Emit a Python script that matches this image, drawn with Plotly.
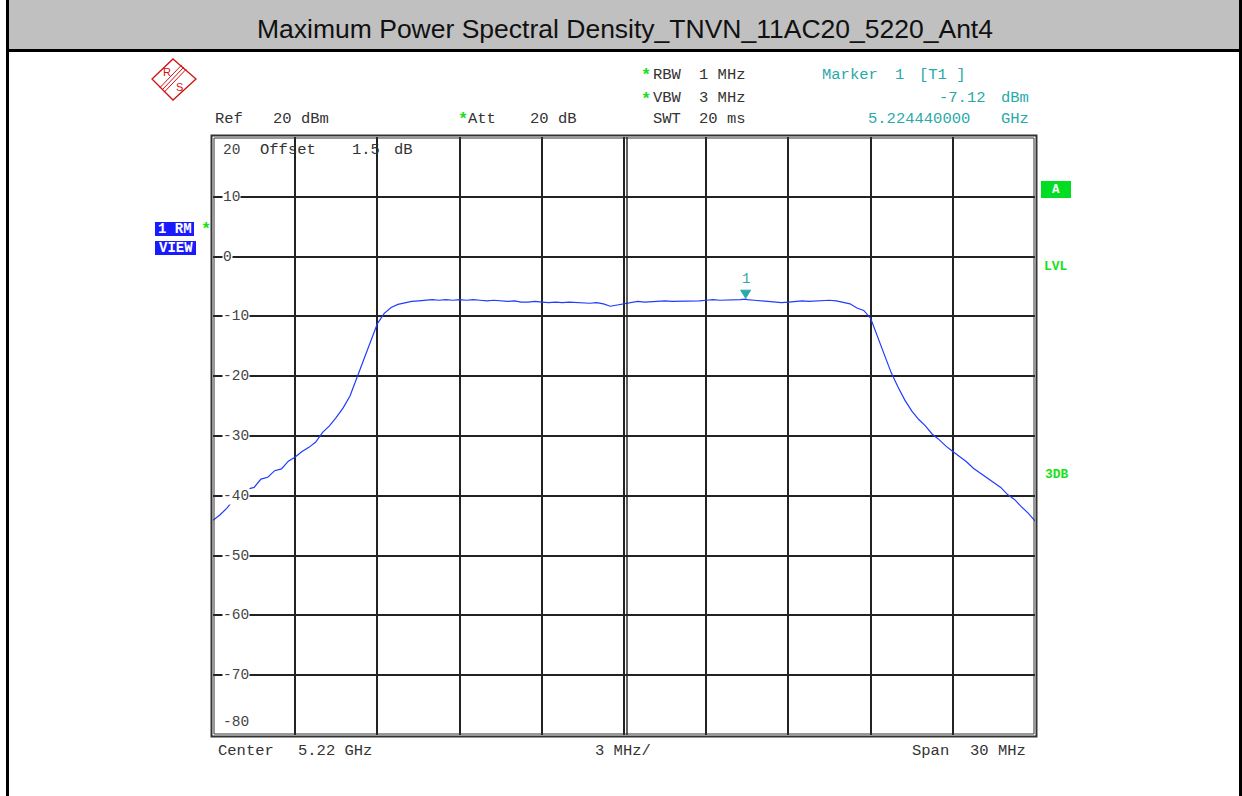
import plotly.graph_objects as go

# ---------------- data ----------------
center_mhz = 5220.0
span_mhz = 30.0
offset_mhz = [
    -15.00, -14.75, -14.50, -14.25, -14.00, -13.75, -13.50, -13.25, -13.00, -12.75,
    -12.50, -12.25, -12.00, -11.75, -11.50, -11.25, -11.00, -10.75, -10.50, -10.25,
    -10.00, -9.75, -9.50, -9.25, -9.00, -8.75, -8.50, -8.25, -8.00, -7.75,
    -7.50, -7.25, -7.00, -6.75, -6.50, -6.25, -6.00, -5.75, -5.50, -5.25,
    -5.00, -4.75, -4.50, -4.25, -4.00, -3.75, -3.50, -3.25, -3.00, -2.75,
    -2.50, -2.25, -2.00, -1.75, -1.50, -1.25, -1.00, -0.75, -0.50, -0.25,
    0.00, 0.25, 0.50, 0.75, 1.00, 1.25, 1.50, 1.75, 2.00, 2.25,
    2.50, 2.75, 3.00, 3.25, 3.50, 3.75, 4.00, 4.25, 4.44, 4.50,
    4.75, 5.00, 5.25, 5.50, 5.75, 6.00, 6.25, 6.50, 6.75, 7.00,
    7.25, 7.50, 7.75, 8.00, 8.25, 8.50, 8.75, 9.00, 9.25, 9.50,
    9.75, 10.00, 10.25, 10.50, 10.75, 11.00, 11.25, 11.50, 11.75, 12.00,
    12.25, 12.50, 12.75, 13.00, 13.25, 13.50, 13.75, 14.00, 14.25, 14.50,
    14.75, 15.00,
]
level_dbm = [
    -44.1, -43.2, -42.1, -40.7, -40.3, -38.9, -38.6, -37.2, -36.9, -35.8,
    -35.5, -34.2, -33.5, -32.6, -31.9, -31.0, -29.4, -28.3, -26.9, -25.3,
    -23.3, -20.3, -17.3, -14.3, -11.2, -9.5, -8.5, -8.0, -7.7, -7.5,
    -7.4, -7.3, -7.2, -7.3, -7.2, -7.3, -7.2, -7.3, -7.2, -7.3,
    -7.4, -7.3, -7.4, -7.5, -7.4, -7.6, -7.6, -7.5, -7.6, -7.7,
    -7.6, -7.7, -7.6, -7.7, -7.7, -7.8, -7.7, -7.9, -8.3, -8.1,
    -7.8, -7.6, -7.5, -7.6, -7.5, -7.5, -7.4, -7.5, -7.5, -7.4,
    -7.5, -7.4, -7.3, -7.2, -7.3, -7.3, -7.3, -7.2, -7.12, -7.2,
    -7.3, -7.4, -7.6, -7.6, -7.7, -7.6, -7.5, -7.4, -7.5, -7.4,
    -7.4, -7.3, -7.4, -7.6, -7.9, -8.6, -9.0, -10.3, -13.3, -16.3,
    -19.4, -21.8, -24.0, -25.8, -27.2, -28.3, -29.7, -30.6, -31.7, -32.6,
    -33.5, -34.3, -35.4, -36.2, -37.0, -37.9, -38.6, -39.8, -40.6, -41.8,
    -42.9, -44.2,
]
marker_freq_mhz = 5224.44
marker_level_dbm = -7.12
y_tick_vals = [20, 10, 0, -10, -20, -30, -40, -50, -60, -70, -80]
y_tick_text = ["20", "10", "0", "-10", "-20", "-30", "-40", "-50", "-60", "-70", "-80"]
title_text = "Maximum Power Spectral Density_TNVN_11AC20_5220_Ant4"

# ---------------- geometry helpers (pixel -> paper) ----------------
W, H = 1242, 796
L, R, T, B = 213, 1035, 137, 735


def px(x):
    return (x - L) / (R - L)


def py(y):
    return (B - y) / (B - T)


MONO = "Liberation Mono, Courier New, monospace"
TXT = "#333333"
TEAL = "#2aa9a9"
GREEN = "#19e019"
BLUE_TRACE = "#1f3cff"

freqs = [center_mhz + o for o in offset_mhz]

fig = go.Figure()
fig.add_trace(go.Scatter(
    x=freqs, y=level_dbm, mode="lines",
    line=dict(color=BLUE_TRACE, width=1.2),
    hoverinfo="skip", showlegend=False,
))

shapes = []
annotations = []


def text(x, y, s, color=TXT, size=15.5, anchor="left", bold=False, bg=None, fam=MONO):
    d = dict(x=px(x), y=py(y), xref="paper", yref="paper", text=("<b>%s</b>" % s) if bold else s,
             showarrow=False, xanchor=anchor, yanchor="middle",
             font=dict(family=fam, size=size, color=color))
    if bg:
        d["bgcolor"] = bg
        d["borderpad"] = 0
    annotations.append(d)


# page frame and title bar
shapes.append(dict(type="rect", xref="paper", yref="paper", x0=px(7.5), x1=px(1240.5), y0=py(0), y1=py(50.5),
                   fillcolor="#c0c0c0", line=dict(width=0), layer="below"))
shapes.append(dict(type="line", xref="paper", yref="paper", x0=px(7.5), x1=px(1242), y0=py(50.5), y1=py(50.5),
                   line=dict(color="black", width=3)))
shapes.append(dict(type="line", xref="paper", yref="paper", x0=px(7.5), x1=px(7.5), y0=py(0), y1=py(796),
                   line=dict(color="black", width=3)))
shapes.append(dict(type="line", xref="paper", yref="paper", x0=px(1240.5), x1=px(1240.5), y0=py(0), y1=py(796),
                   line=dict(color="black", width=3)))
annotations.append(dict(x=px(624.5), y=py(29), xref="paper", yref="paper", text=title_text, showarrow=False,
                        xanchor="center", yanchor="middle",
                        font=dict(family="Liberation Sans, Arial, sans-serif", size=26.5, color="#111111")))

# plot frame (double line)
shapes.append(dict(type="rect", xref="paper", yref="paper", x0=px(211.5), x1=px(1036.5), y0=py(736.5), y1=py(135.5),
                   line=dict(color="#333333", width=2)))
shapes.append(dict(type="rect", xref="paper", yref="paper", x0=px(214), x1=px(1034), y0=py(734), y1=py(138),
                   line=dict(color="#333333", width=1)))
# double centre line
shapes.append(dict(type="line", xref="x", yref="paper", xsizemode="pixel", xanchor=center_mhz,
                   x0=3, x1=3, y0=0, y1=1, line=dict(color="#222222", width=1.4)))

# R&S logo
RED = "#d01010"
shapes.append(dict(type="path", xref="paper", yref="paper",
                   path="M %f,%f L %f,%f L %f,%f L %f,%f Z" % (px(173), py(59), px(196), py(79), px(173), py(100), px(152), py(79)),
                   line=dict(color=RED, width=1.3)))
for d in (-2.2, 0, 2.2):
    shapes.append(dict(type="line", xref="paper", yref="paper",
                       x0=px(184 + d), y0=py(67 + d), x1=px(162 + d), y1=py(90 + d),
                       line=dict(color=RED, width=1)))
text(167, 72, "R", color=RED, size=11, anchor="center", fam="Liberation Sans, Arial")
text(179, 87, "S", color=RED, size=11, anchor="center", fam="Liberation Sans, Arial")

# instrument header texts
STAR = 17
text(456, 120, "*", color=GREEN, size=STAR, bold=True)
text(213, 119, "Ref")
text(271, 119, "20 dBm")
text(466, 119, "Att")
text(528, 119, "20 dB")
text(639, 76, "*", color=GREEN, size=STAR, bold=True)
text(651, 75, "RBW")
text(697, 75, "1 MHz")
text(639, 99, "*", color=GREEN, size=STAR, bold=True)
text(651, 98, "VBW")
text(697, 98, "3 MHz")
text(651, 119, "SWT")
text(697, 119, "20 ms")
text(820, 75, "Marker", color=TEAL)
text(893, 75, "1", color=TEAL)
text(917, 75, "[T1 ]", color=TEAL)
text(988, 98, "-7.12", color=TEAL, anchor="right")
text(1031, 98, "dBm", color=TEAL, anchor="right")
text(972, 119, "5.224440000", color=TEAL, anchor="right")
text(1031, 119, "GHz", color=TEAL, anchor="right")

# bottom texts
text(216, 751, "Center")
text(296, 751, "5.22 GHz")
text(593, 751, "3 MHz/")
text(910, 751, "Span")
text(968, 751, "30 MHz")

# inside plot texts
text(258, 150, "Offset")
text(350, 150, "1.5")
text(392, 150, "dB")

# y tick labels
for v, s in zip(y_tick_vals, y_tick_text):
    shift = -13 if v == y_tick_vals[0] else (13 if v == y_tick_vals[-1] else 0)
    annotations.append(dict(x=px(222), y=v, xref="paper", yref="y", yshift=shift, text=s, showarrow=False,
                            xanchor="left", yanchor="middle", bgcolor="white" if shift == 0 else None,
                            borderpad=0, font=dict(family=MONO, size=14.5, color="#444444")))

# left side boxes
shapes.append(dict(type="rect", xref="paper", yref="paper", x0=px(155), x1=px(194), y0=py(236), y1=py(222),
                   fillcolor="#1a1aff", line=dict(width=0)))
shapes.append(dict(type="rect", xref="paper", yref="paper", x0=px(155), x1=px(196), y0=py(255), y1=py(241),
                   fillcolor="#1a1aff", line=dict(width=0)))
text(174.5, 229, "1 RM", color="white", size=14, anchor="center", bold=True)
text(175.5, 248, "VIEW", color="white", size=14, anchor="center", bold=True)
text(199, 229, "*", color=GREEN, size=STAR, bold=True)

# right side labels
shapes.append(dict(type="rect", xref="paper", yref="paper", x0=px(1041), x1=px(1071), y0=py(198), y1=py(181),
                   fillcolor="#00dd22", line=dict(width=0)))
text(1056, 190, "A", color="white", size=12.5, anchor="center", bold=True)
text(1042, 266, "LVL", color=GREEN, size=13, bold=True)
text(1043, 474, "3DB", color=GREEN, size=13, bold=True)

# marker triangle + label
shapes.append(dict(type="path", xref="x", yref="y", xsizemode="pixel", ysizemode="pixel",
                   xanchor=marker_freq_mhz, yanchor=marker_level_dbm,
                   path="M -5,9 L 5,9 L 0,1 Z", fillcolor=TEAL, line=dict(color=TEAL, width=1)))
annotations.append(dict(x=marker_freq_mhz, y=marker_level_dbm, xref="x", yref="y", yshift=20, text="1",
                        showarrow=False, xanchor="center", yanchor="middle",
                        font=dict(family=MONO, size=14, color=TEAL)))

fig.update_layout(
    width=W, height=H,
    margin=dict(l=L, r=W - R, t=T, b=H - B, pad=0),
    paper_bgcolor="white", plot_bgcolor="white",
    xaxis=dict(range=[center_mhz - span_mhz / 2, center_mhz + span_mhz / 2], dtick=3, tick0=center_mhz,
               showgrid=True, gridcolor="#222222", gridwidth=1.5, showticklabels=False, ticks="",
               zeroline=False, showline=False, fixedrange=True),
    yaxis=dict(range=[-80, 20], dtick=10, tick0=0, showgrid=True, gridcolor="#222222", gridwidth=1.5,
               showticklabels=False, ticks="", zeroline=False, showline=False, fixedrange=True),
    shapes=shapes, annotations=annotations, showlegend=False,
)

fig.write_html(
    "out.html",
    config={"displayModeBar": False},
    post_script="document.body.style.margin='0';document.body.style.overflow='hidden';",
)
